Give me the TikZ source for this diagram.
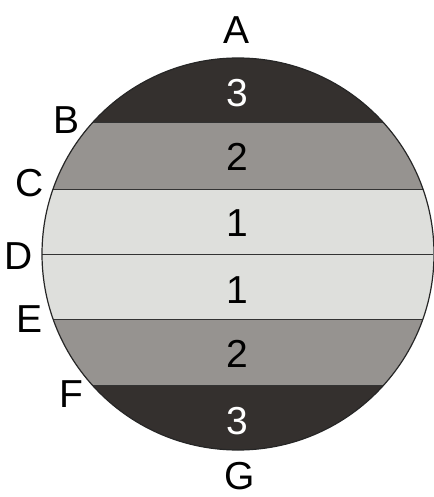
\documentclass[tikz,border=0pt]{standalone}
\usepackage{fontspec}
\setmainfont{Liberation Sans}
\definecolor{zonedark}{RGB}{52,48,46}
\definecolor{zonemid}{RGB}{150,147,144}
\definecolor{zonelight}{RGB}{222,223,220}
\begin{document}
\begin{tikzpicture}[x=1pt, y=-1pt,
    lbl/.style={font=\fontsize{39}{46}\selectfont, inner sep=0pt},
    num/.style={lbl}]
  \useasboundingbox (0,0) rectangle (433,497);

  % Bands inside the sphere
  \begin{scope}
    \clip (238,254) circle (196);
    \fill[zonedark]  (0,0)     rectangle (433,122.5);
    \fill[zonemid]   (0,122.5) rectangle (433,189);
    \fill[zonelight] (0,189)   rectangle (433,319);
    \fill[zonemid]   (0,319)   rectangle (433,385.5);
    \fill[zonedark]  (0,385.5) rectangle (433,497);
    \foreach \y in {122.5,189,254,319,385.5}
      \draw[line width=1pt, black!80] (0,\y) -- (433,\y);
  \end{scope}
  \draw[line width=1.2pt, black!85] (238,254) circle (196);

  % Zone numbers
  \node[num, text=white] (n3top) at (237,93)  {3};
  \node[num] (n2top) at (237,157) {2};
  \node[num] (n1top) at (237,223) {1};
  \node[num] (n1bot) at (237,290) {1};
  \node[num] (n2bot) at (237,354) {2};
  \node[num, text=white] (n3bot) at (237,421) {3};

  % Boundary letters
  \node[lbl] (ptA) at (237,30)  {A};
  \node[lbl] (ptB) at (67,120)  {B};
  \node[lbl] (ptC) at (30,183)  {C};
  \node[lbl] (ptD) at (19,256)  {D};
  \node[lbl] (ptE) at (30,319)  {E};
  \node[lbl] (ptF) at (71,394)  {F};
  \node[lbl] (ptG) at (240,476) {G};
\end{tikzpicture}
\end{document}
